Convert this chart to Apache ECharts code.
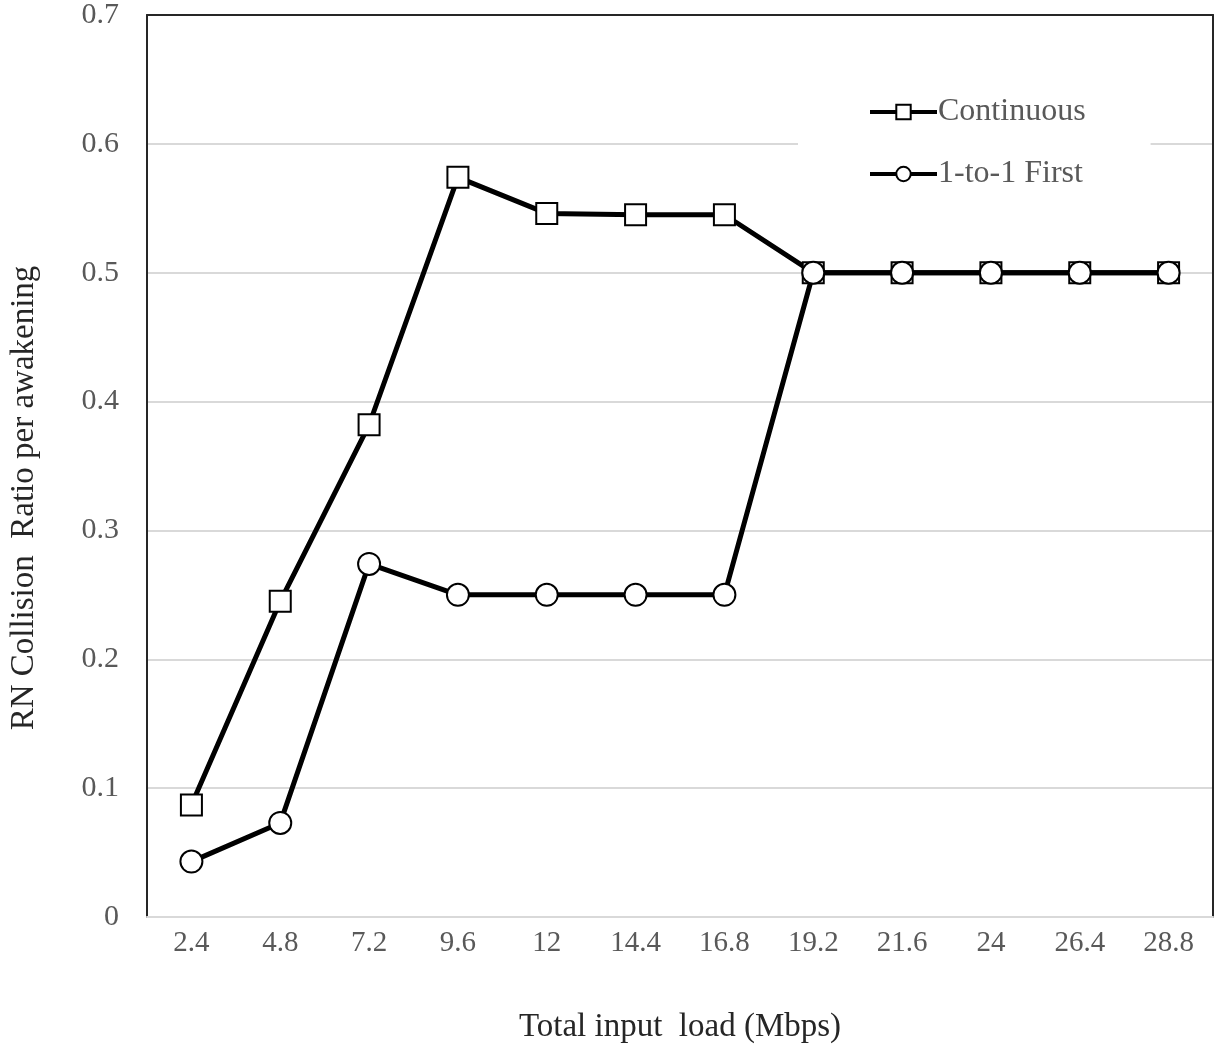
<!DOCTYPE html>
<html>
<head>
<meta charset="utf-8">
<script src="https://cdn.jsdelivr.net/npm/echarts@6/dist/echarts.min.js"></script>
<style>html,body{margin:0;padding:0;background:#fff;}#c{width:1219px;height:1049px;}</style>
</head>
<body>
<div id="c"></div>
<script>
var categories = ['2.4','4.8','7.2','9.6','12','14.4','16.8','19.2','21.6','24','26.4','28.8'];
var continuous = [0.087, 0.245, 0.382, 0.574, 0.546, 0.545, 0.545, 0.5, 0.5, 0.5, 0.5, 0.5];
var oneToOne = [0.043, 0.073, 0.274, 0.25, 0.25, 0.25, 0.25, 0.5, 0.5, 0.5, 0.5, 0.5];
var seriesNames = ['Continuous', '1-to-1 First'];
var xTitle = 'Total input  load (Mbps)';
var yTitle = 'RN Collision  Ratio per awakening';

var font = 'Liberation Serif';
var chart = echarts.init(document.getElementById('c'), null, {renderer: 'canvas'});
chart.setOption({
  animation: false,
  backgroundColor: '#fff',
  textStyle: {fontFamily: font},
  grid: {left: 146, top: 12, right: 6, bottom: 131, containLabel: false},
  legend: {
    data: seriesNames,
    orient: 'vertical',
    left: 798, top: 84,
    padding: [12, 65, 12, 70],
    backgroundColor: '#fff',
    itemWidth: 67, itemHeight: 18, itemGap: 30,
    lineStyle: {width: 4, color: '#000'},
    textStyle: {fontFamily: font, fontSize: 32, color: '#595959', padding: [0,0,0,-4]}
  },
  xAxis: [{
    type: 'category', data: categories, boundaryGap: true,
    axisLine: {lineStyle: {color: '#d9d9d9', width: 2}},
    axisTick: {show: false},
    axisLabel: {fontFamily: font, fontSize: 29, color: '#595959', margin: 12},
    name: xTitle, nameLocation: 'middle', nameGap: 94,
    nameTextStyle: {fontFamily: font, fontSize: 33, color: '#262626'}
  }, {
    type: 'category', position: 'top', data: categories,
    axisLine: {show: true, onZero: false, lineStyle: {color: '#262626', width: 2}},
    axisTick: {show: false}, axisLabel: {show: false}
  }],
  yAxis: [{
    type: 'value', min: 0, max: 0.7, interval: 0.1,
    axisLine: {show: true, onZero: false, lineStyle: {color: '#262626', width: 2}},
    axisTick: {show: false},
    splitLine: {lineStyle: {color: '#d9d9d9', width: 2}},
    axisLabel: {fontFamily: font, fontSize: 30, color: '#595959', margin: 28,
      formatter: function(v){ return v === 0 ? '0' : v.toFixed(1); }},
    name: yTitle, nameLocation: 'middle', nameGap: 106,
    nameTextStyle: {fontFamily: font, fontSize: 33, color: '#262626', padding: [0, 64, 0, 0]}
  }, {
    type: 'value', position: 'right', min: 0, max: 0.7, interval: 0.1,
    axisLine: {show: true, onZero: false, lineStyle: {color: '#262626', width: 2}},
    axisTick: {show: false}, axisLabel: {show: false}, splitLine: {show: false}
  }],
  series: [{
    name: seriesNames[0], type: 'line', data: continuous,
    symbol: 'rect', symbolSize: 21,
    lineStyle: {color: '#000', width: 5},
    itemStyle: {color: '#fff', borderColor: '#000', borderWidth: 2},
    z: 3
  }, {
    name: seriesNames[1], type: 'line', data: oneToOne,
    symbol: 'circle', symbolSize: 22,
    lineStyle: {color: '#000', width: 5},
    itemStyle: {color: '#fff', borderColor: '#000', borderWidth: 2},
    z: 4
  }]
});
</script>
</body>
</html>
